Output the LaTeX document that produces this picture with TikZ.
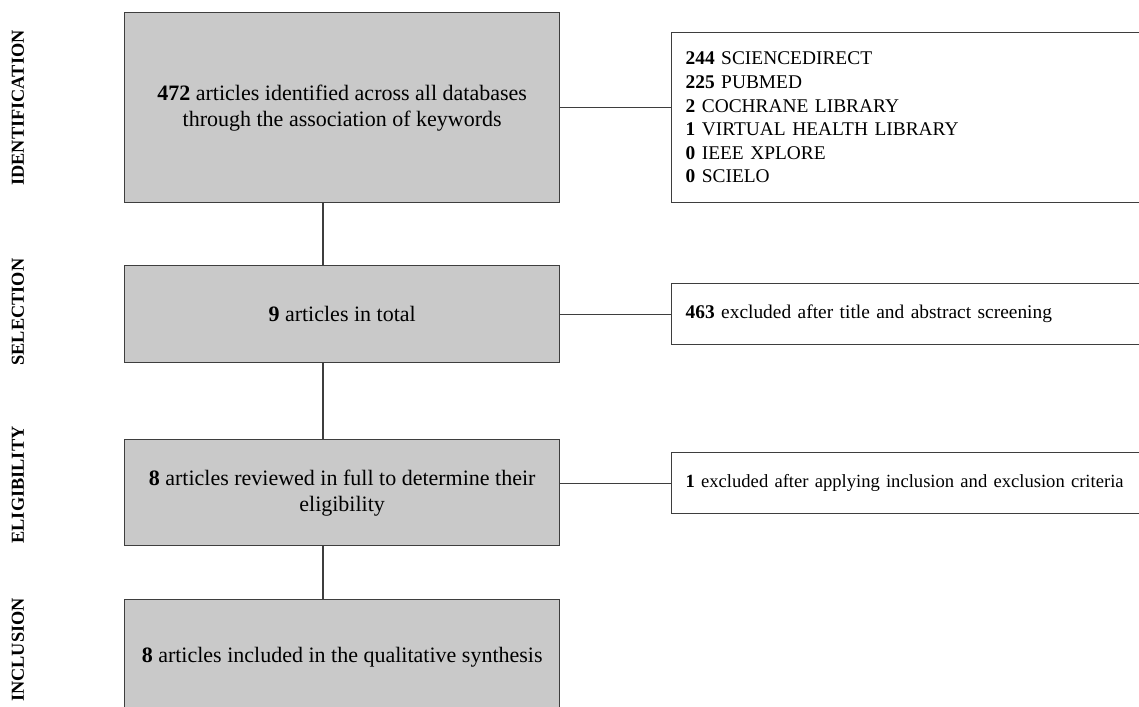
\documentclass[tikz,border=0pt]{standalone}
\usepackage{fontspec}
\setmainfont{Liberation Serif}
\usepackage{tikz}
\usetikzlibrary{calc}

\definecolor{boxgray}{RGB}{201,201,201}
\definecolor{boxline}{RGB}{62,62,62}

\begin{document}
\begin{tikzpicture}[x=1pt, y=-1pt,
  block/.style={draw=boxline, fill=boxgray, line width=1.3pt, minimum width=435pt, inner xsep=5pt, align=center, font=\fontsize{22}{26}\selectfont},
  side/.style={draw=boxline, fill=white, line width=1.3pt, text width=490pt, inner xsep=14pt, align=left, font=\fontsize{19.4}{23.6}\selectfont},
  phase/.style={rotate=90, font=\fontsize{18.3}{20}\selectfont\bfseries},
  link/.style={draw=boxline, line width=1.2pt}]

  \useasboundingbox (0,0) rectangle (1139,706);
  \clip (0,0) rectangle (1139,706);

  % Phases
  \node[phase] (pIdent) at (18,108) {IDENTIFICATION};
  \node[phase] (pSelect) at (18,312) {SELECTION};
  \node[phase] (pElig) at (18,485) {ELIGIBILITY};
  \node[phase] (pIncl) at (18,650) {INCLUSION};

  % Main column
  \node[block, minimum height=190pt, anchor=north west] (ident) at (124,12) {\textbf{472} articles identified across all databases\\through the association of keywords};
  \node[block, minimum height=97pt, anchor=north west] (select) at (124,265) {\textbf{9} articles in total};
  \node[block, minimum height=106pt, anchor=north west] (elig) at (124,439) {\textbf{8} articles reviewed in full to determine their\\eligibility};
  \node[block, minimum height=116pt, anchor=north west] (incl) at (124,599) {\textbf{8} articles included in the qualitative synthesis};

  % Side boxes
  \node[side, minimum height=170pt, anchor=north west] (src) at (671,32) {\textbf{244} SCIENCEDIRECT\\\textbf{225} PUBMED\\\textbf{2} COCHRANE LIBRARY\\\textbf{1} VIRTUAL HEALTH LIBRARY\\\textbf{0} IEEE XPLORE\\\textbf{0} SCIELO};
  \node[side, minimum height=61pt, anchor=north west] (excl1) at (671,283) {\textbf{463} excluded after title and abstract screening};
  \node[side, minimum height=61pt, anchor=north west, font=\fontsize{18.6}{23.6}\selectfont] (excl2) at (671,452) {\textbf{1} excluded after applying inclusion and exclusion criteria};

  % ghost node
  \coordinate (spine) at (323,0);

  \draw[link] (spine |- ident.south) -- (spine |- select.north);
  \draw[link] (spine |- select.south) -- (spine |- elig.north);
  \draw[link] (spine |- elig.south) -- (spine |- incl.north);

  \draw[link] (ident.east) -- (ident.east -| src.west);
  \draw[link] (select.east) -- (select.east -| excl1.west);
  \draw[link] (excl2.west -| elig.east) -- (excl2.west);

\end{tikzpicture}
\end{document}
